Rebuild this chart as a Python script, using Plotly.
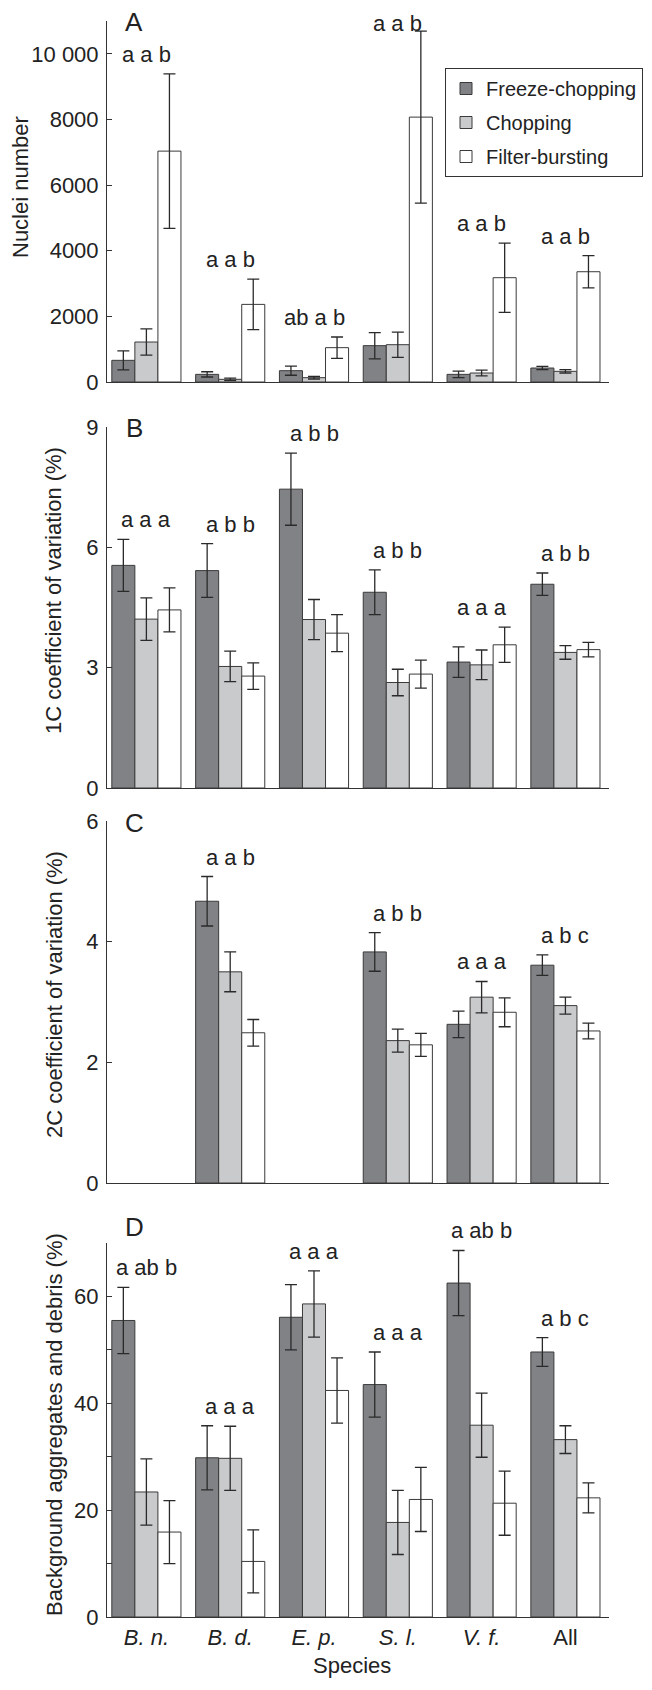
import plotly.graph_objects as go
from plotly.subplots import make_subplots

# ---- data ----
categories = ["B. n.", "B. d.", "E. p.", "S. l.", "V. f.", "All"]
tick_text = ["<i>B. n.</i>", "<i>B. d.</i>", "<i>E. p.</i>", "<i>S. l.</i>", "<i>V. f.</i>", "All"]
methods = ["Freeze-chopping", "Chopping", "Filter-bursting"]

# A: nuclei number
nuclei_freeze = [660, 233, 345, 1107, 233, 426]
nuclei_freeze_err = [290, 80, 140, 400, 100, 50]
nuclei_chop = [1218, 81, 132, 1137, 274, 325]
nuclei_chop_err = [400, 40, 40, 385, 90, 50]
nuclei_filter = [7035, 2365, 1046, 8071, 3178, 3360]
nuclei_filter_err = [2355, 770, 325, 2620, 1055, 490]
nuclei_letters = ["a a b", "a a b", "ab a b", "a a b", "a a b", "a a b"]

# B: 1C coefficient of variation (%)
cv1_freeze = [5.55, 5.42, 7.45, 4.88, 3.14, 5.08]
cv1_freeze_err = [0.65, 0.67, 0.90, 0.56, 0.38, 0.28]
cv1_chop = [4.21, 3.03, 4.20, 2.63, 3.07, 3.38]
cv1_chop_err = [0.53, 0.38, 0.50, 0.33, 0.37, 0.17]
cv1_filter = [4.44, 2.79, 3.86, 2.84, 3.57, 3.45]
cv1_filter_err = [0.55, 0.33, 0.46, 0.35, 0.44, 0.18]
cv1_letters = ["a a a", "a b b", "a b b", "a b b", "a a a", "a b b"]

# C: 2C coefficient of variation (%)
cv2_freeze = [None, 4.67, None, 3.83, 2.63, 3.61]
cv2_freeze_err = [None, 0.41, None, 0.32, 0.22, 0.17]
cv2_chop = [None, 3.50, None, 2.36, 3.08, 2.94]
cv2_chop_err = [None, 0.33, None, 0.19, 0.26, 0.14]
cv2_filter = [None, 2.49, None, 2.29, 2.83, 2.52]
cv2_filter_err = [None, 0.22, None, 0.19, 0.24, 0.13]
cv2_letters = ["", "a a b", "", "a b b", "a a a", "a b c"]

# D: background aggregates and debris (%)
debris_freeze = [55.5, 29.8, 56.1, 43.5, 62.5, 49.6]
debris_freeze_err = [6.2, 6.0, 6.1, 6.1, 6.1, 2.7]
debris_chop = [23.4, 29.7, 58.6, 17.7, 35.9, 33.2]
debris_chop_err = [6.2, 6.0, 6.2, 6.0, 6.0, 2.6]
debris_filter = [15.9, 10.4, 42.4, 22.0, 21.3, 22.3]
debris_filter_err = [5.9, 5.9, 6.1, 6.0, 6.0, 2.8]
debris_letters = ["a ab b", "a a a", "a a a", "a a a", "a ab b", "a b c"]

panels = [
    ("A", "Nuclei number", [nuclei_freeze, nuclei_chop, nuclei_filter],
     [nuclei_freeze_err, nuclei_chop_err, nuclei_filter_err], nuclei_letters),
    ("B", "1C coefficient of variation (%)", [cv1_freeze, cv1_chop, cv1_filter],
     [cv1_freeze_err, cv1_chop_err, cv1_filter_err], cv1_letters),
    ("C", "2C coefficient of variation (%)", [cv2_freeze, cv2_chop, cv2_filter],
     [cv2_freeze_err, cv2_chop_err, cv2_filter_err], cv2_letters),
    ("D", "Background aggregates and debris (%)", [debris_freeze, debris_chop, debris_filter],
     [debris_freeze_err, debris_chop_err, debris_filter_err], debris_letters),
]

# ---- styling / layout ----
# the page body keeps its default 8px margin, so the figure is drawn 8px in
# from the window corner; all page positions below are shifted by that much
PAGE_OFF = 8
W, H = 652 - PAGE_OFF, 1690 - 2 * PAGE_OFF
PLOT_L, PLOT_R, PLOT_T, PLOT_B = 107, 609, 21, 1617   # page pixels
FONT = "Liberation Sans, Arial, Helvetica, sans-serif"
INK = "#222222"
AXIS = "#333333"
fills = ["#818285", "#c9cacc", "#ffffff"]

# page-pixel extents of each panel (top, bottom)
panel_px = [(21, 382), (427, 788), (821, 1183), (1243, 1617)]
title_px = [(20, 187), (54, 591), (54, 995), (54, 1425)]   # (x, y) centre of y title
letter_py = [22, 428, 823, 1227]

y_ranges = [[0, 11000], [0, 9], [0, 6], [0, 70]]
y_ticks = [
    ([0, 2000, 4000, 6000, 8000, 10000], ["0", "2000", "4000", "6000", "8000", "10 000"]),
    ([0, 3, 6, 9], ["0", "3", "6", "9"]),
    ([0, 2, 4, 6], ["0", "2", "4", "6"]),
    ([0, 10, 20, 30, 40, 50, 60, 70], ["0", "", "20", "", "40", "", "60", ""]),
]


def px(x):
    return (x - PLOT_L) / (PLOT_R - PLOT_L)


def py(y):
    return (PLOT_B - y) / (PLOT_B - PLOT_T)


fig = make_subplots(rows=4, cols=1)

annotations = []
for r, (tag, ytitle, series, errs, letters) in enumerate(panels, start=1):
    for k, (vals, ev) in enumerate(zip(series, errs)):
        fig.add_trace(
            go.Bar(
                x=categories,
                y=vals,
                name=methods[k],
                legendgroup=methods[k],
                showlegend=(r == 1),
                marker=dict(color=fills[k], line=dict(color="#3a3a3a", width=1)),
                error_y=dict(type="data", array=ev, visible=True,
                             color="#2a2a2a", thickness=1.3, width=6),
            ),
            row=r, col=1,
        )
    # significance letters above each group (kept inside the page at the top)
    yref = "y" if r == 1 else f"y{r}"
    xref = "x" if r == 1 else f"x{r}"
    cap = 0.94 * y_ranges[r - 1][1] if r == 1 else None
    for i, lab in enumerate(letters):
        if not lab:
            continue
        tops = [s[i] + e[i] for s, e in zip(series, errs) if s[i] is not None]
        ya = max(tops) if cap is None else min(max(tops), cap)
        annotations.append(dict(
            x=categories[i], y=ya, xref=xref, yref=yref,
            text=lab, showarrow=False, yanchor="bottom", yshift=5,
            font=dict(family=FONT, size=22, color=INK),
        ))
    # panel letter
    annotations.append(dict(
        x=px(134), y=py(letter_py[r - 1]), xref="paper", yref="paper",
        text=tag, showarrow=False, xanchor="center", yanchor="middle",
        font=dict(family=FONT, size=26, color=INK),
    ))
    # y-axis title
    tx, ty = title_px[r - 1]
    annotations.append(dict(
        x=px(tx), y=py(ty), xref="paper", yref="paper",
        text=ytitle, showarrow=False, textangle=-90,
        xanchor="center", yanchor="middle",
        font=dict(family=FONT, size=22, color=INK),
    ))

annotations.append(dict(
    x=px(352), y=py(1665), xref="paper", yref="paper",
    text="Species", showarrow=False, xanchor="center", yanchor="middle",
    font=dict(family=FONT, size=22, color=INK),
))

for r in range(1, 5):
    top, bot = panel_px[r - 1]
    fig.update_yaxes(
        domain=[py(bot), py(top)], range=y_ranges[r - 1], automargin=False,
        tickvals=y_ticks[r - 1][0], ticktext=y_ticks[r - 1][1],
        ticks="inside", ticklen=5, tickcolor=AXIS, tickwidth=1,
        ticklabelstandoff=3,
        showline=True, linecolor=AXIS, linewidth=1, showgrid=False, zeroline=False,
        tickfont=dict(family=FONT, size=22, color=INK),
        row=r, col=1,
    )
    fig.update_xaxes(
        range=[-0.47, 5.52], automargin=False,
        showline=True, linecolor=AXIS, linewidth=1,
        showgrid=False, ticks="", showticklabels=(r == 4),
        tickvals=categories, ticktext=tick_text, ticklabelstandoff=1,
        tickfont=dict(family=FONT, size=22, color=INK),
        row=r, col=1,
    )

fig.update_layout(
    width=W, height=H,
    margin=dict(l=PLOT_L - PAGE_OFF, r=W - (PLOT_R - PAGE_OFF),
                t=PLOT_T - PAGE_OFF, b=H - (PLOT_B - PAGE_OFF), autoexpand=False),
    barmode="group", bargap=0.175, bargroupgap=0,
    plot_bgcolor="white", paper_bgcolor="white",
    font=dict(family=FONT, size=22, color=INK),
    legend=dict(
        x=px(445), y=py(68), xanchor="left", yanchor="top",
        bordercolor="#333333", borderwidth=1, bgcolor="white",
        font=dict(family=FONT, size=20, color=INK),
        traceorder="grouped", tracegroupgap=5, itemwidth=30,
    ),
    annotations=annotations,
)

fig.write_html("out.html")
